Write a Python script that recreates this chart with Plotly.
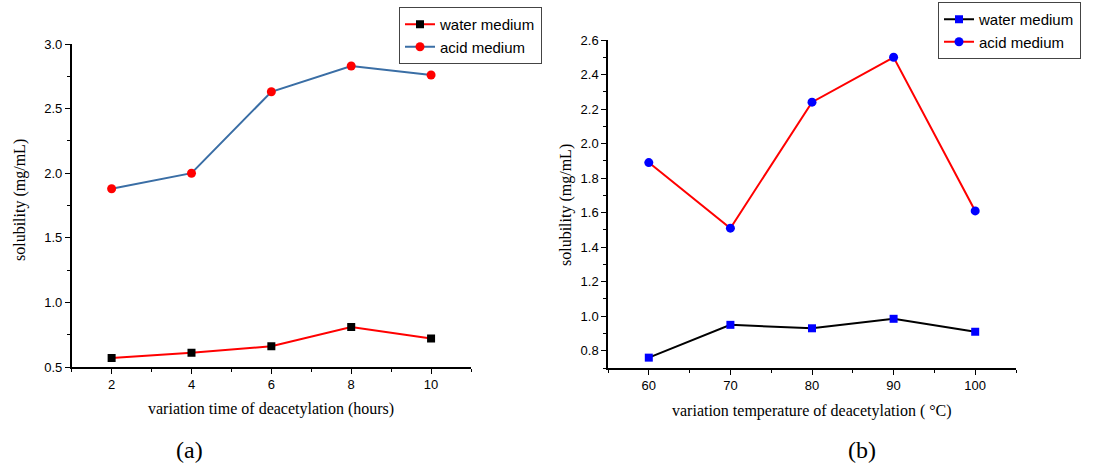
import plotly.graph_objects as go

# Panel (a): time of deacetylation
hours = [2, 4, 6, 8, 10]
water_a = [0.57, 0.61, 0.66, 0.81, 0.72]
acid_a = [1.88, 2.00, 2.63, 2.83, 2.76]

# Panel (b): temperature of deacetylation
temps = [60, 70, 80, 90, 100]
water_b = [0.76, 0.95, 0.93, 0.985, 0.91]
acid_b = [1.89, 1.51, 2.24, 2.50, 1.61]

series_names = ["water medium", "acid medium"]
x_titles = ["variation time of deacetylation (hours)", "variation temperature of deacetylation ( °C)"]
y_title = "solubility (mg/mL)"
panel_labels = ["(a)", "(b)"]

W, H = 1093, 465
SANS = "Liberation Sans, Arial, sans-serif"
SERIF = "Liberation Serif, Times New Roman, serif"

fig = go.Figure()

# panel a traces
fig.add_trace(go.Scatter(x=hours, y=water_a, name=series_names[0], mode="lines+markers",
                         line=dict(color="#ff0000", width=2),
                         marker=dict(symbol="square", size=8, color="#000000"),
                         xaxis="x", yaxis="y", legend="legend"))
fig.add_trace(go.Scatter(x=hours, y=acid_a, name=series_names[1], mode="lines+markers",
                         line=dict(color="#3a6ea5", width=2),
                         marker=dict(symbol="circle", size=9, color="#ff0000"),
                         xaxis="x", yaxis="y", legend="legend"))
# panel b traces
fig.add_trace(go.Scatter(x=temps, y=water_b, name=series_names[0], mode="lines+markers",
                         line=dict(color="#000000", width=2),
                         marker=dict(symbol="square", size=8, color="#0000ff"),
                         xaxis="x2", yaxis="y2", legend="legend2"))
fig.add_trace(go.Scatter(x=temps, y=acid_b, name=series_names[1], mode="lines+markers",
                         line=dict(color="#ff0000", width=2),
                         marker=dict(symbol="circle", size=9, color="#0000ff"),
                         xaxis="x2", yaxis="y2", legend="legend2"))

def px_x(p):
    return p / W

def px_y(p):
    return 1 - p / H

axis_common = dict(showline=True, linecolor="black", linewidth=1.5, showgrid=False, zeroline=False,
                   ticks="outside", ticklen=5, tickwidth=1.2, tickcolor="black", automargin=False,
                   tickfont=dict(family=SANS, size=13, color="black"))

fig.update_layout(
    width=W, height=H, margin=dict(l=0, r=0, t=0, b=0, autoexpand=False),
    paper_bgcolor="white", plot_bgcolor="white",
    showlegend=True,
    xaxis=dict(domain=[px_x(71.7), px_x(471)], range=[1, 11], tick0=2, dtick=2,
               minor=dict(dtick=1, ticks="outside", ticklen=3, tickcolor="black"),
               anchor="y", **axis_common),
    yaxis=dict(domain=[px_y(367), px_y(44)], range=[0.5, 3.0], dtick=0.5, tickformat=".1f",
               minor=dict(dtick=0.25, ticks="outside", ticklen=3, tickcolor="black"),
               anchor="x", **axis_common),
    xaxis2=dict(domain=[px_x(608), px_x(1016)], range=[55, 105], tick0=60, dtick=10,
                minor=dict(dtick=5, ticks="outside", ticklen=3, tickcolor="black"),
                anchor="y2", **axis_common),
    yaxis2=dict(domain=[px_y(368), px_y(40)], range=[0.7, 2.6], tick0=0, dtick=0.2, tickformat=".1f",
                minor=dict(dtick=0.1, ticks="outside", ticklen=3, tickcolor="black"),
                anchor="x2", **axis_common),
    legend=dict(x=px_x(399), y=px_y(7), xanchor="left", yanchor="top",
                bgcolor="white", bordercolor="#444444", borderwidth=1,
                font=dict(family=SANS, size=15, color="black"),
                tracegroupgap=0, itemwidth=30),
    legend2=dict(x=px_x(938), y=px_y(2), xanchor="left", yanchor="top",
                 bgcolor="white", bordercolor="#444444", borderwidth=1,
                 font=dict(family=SANS, size=15, color="black"),
                 tracegroupgap=0, itemwidth=30),
)

annotations = [
    dict(text=x_titles[0], x=px_x(271), y=px_y(409), xref="paper", yref="paper",
         showarrow=False, font=dict(family=SERIF, size=16, color="black"), xanchor="center", yanchor="middle"),
    dict(text=x_titles[1], x=px_x(812), y=px_y(411), xref="paper", yref="paper",
         showarrow=False, font=dict(family=SERIF, size=16, color="black"), xanchor="center", yanchor="middle"),
    dict(text=y_title, x=px_x(20), y=px_y(200), xref="paper", yref="paper", textangle=-90,
         showarrow=False, font=dict(family=SERIF, size=16, color="black"), xanchor="center", yanchor="middle"),
    dict(text=y_title, x=px_x(566), y=px_y(205), xref="paper", yref="paper", textangle=-90,
         showarrow=False, font=dict(family=SERIF, size=16, color="black"), xanchor="center", yanchor="middle"),
    dict(text=panel_labels[0], x=px_x(189), y=px_y(450), xref="paper", yref="paper",
         showarrow=False, font=dict(family=SERIF, size=24, color="black"), xanchor="center", yanchor="middle"),
    dict(text=panel_labels[1], x=px_x(862), y=px_y(450), xref="paper", yref="paper",
         showarrow=False, font=dict(family=SERIF, size=24, color="black"), xanchor="center", yanchor="middle"),
]
fig.update_layout(annotations=annotations)

fig.write_html("out.html", config={"displayModeBar": False},
               post_script="document.body.style.margin='0';document.body.style.overflow='hidden';")
